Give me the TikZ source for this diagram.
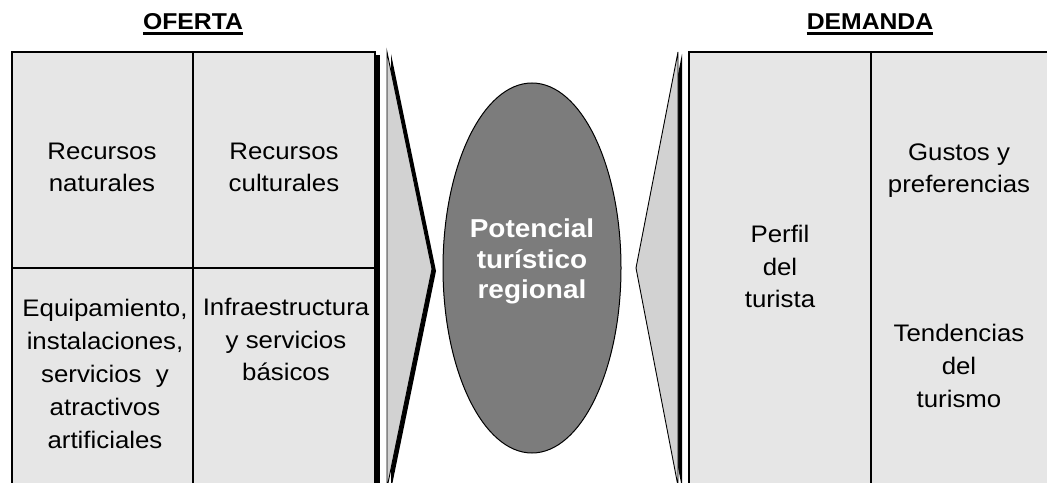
\documentclass[tikz,border=0pt]{standalone}
\usepackage{fontspec}
\setmainfont{Liberation Sans}[FakeStretch=1.08]
\usetikzlibrary{shapes.geometric}

\definecolor{cajagris}{HTML}{E6E6E6}
\definecolor{flechagris}{HTML}{D2D2D2}
\definecolor{centrogris}{HTML}{7C7C7C}

\begin{document}
\begin{tikzpicture}[x=1bp, y=-1bp,
	caja/.style={draw=black, line width=1.1bp, fill=cajagris},
	flecha/.style={draw=black, line width=0.9bp, fill=flechagris},
	sombra/.style={fill=black, draw=none},
	cell/.style={align=center, anchor=base, inner sep=0pt, font=\fontsize{24}{33}\selectfont},
	titulo/.style={anchor=base, inner sep=0pt, font=\fontsize{23}{28}\selectfont\bfseries}]

	\useasboundingbox (0, 0) rectangle (1047, 483);
	\clip (0, 0) rectangle (1047, 483);

	% titles
	\node[titulo] (oferta) at (193, 30) {OFERTA};
	\node[titulo] (demanda) at (870, 30) {DEMANDA};
	\draw[line width=2.4bp] ([yshift=-3.5bp]oferta.base west) -- ([yshift=-3.5bp]oferta.base east);
	\draw[line width=2.4bp] ([yshift=-3.5bp]demanda.base west) -- ([yshift=-3.5bp]demanda.base east);

	% oferta block
	\path[sombra] (17, 55) rectangle (380, 500);
	\draw[caja] (12, 52) rectangle (375, 500);
	\draw[line width=1.1bp] (193, 52) -- (193, 500);
	\draw[line width=1.1bp] (12, 268) -- (375, 268);

	% (base = last line)
	\node[cell] (recnat) at (102, 192) {Recursos\\naturales};
	\node[cell] (reccul) at (284, 192) {Recursos\\culturales};
	\node[cell] (equip) at (105, 448) {Equipamiento,\\instalaciones,\\servicios~~y\\atractivos\\artificiales};
	\node[cell] (infra) at (286, 381) {Infraestructura\\y servicios\\básicos};

	% left chevron
	\path[sombra] (391, 54) -- (436, 271) -- (391, 490) -- cycle;
	\draw[flecha] (387, 52) -- (432, 269) -- (387, 488) -- cycle;

	% centre
	\node[ellipse, draw=black, line width=1bp, fill=centrogris, minimum width=178bp, minimum height=370bp] (potencial) at (532, 268) {};
	\node[cell, text=white, font=\fontsize{26}{31}\selectfont\bfseries] (potxt) at (532, 299) {Potencial\\turístico\\regional};

	% right chevron
	\path[sombra] (682, 54) -- (640, 270) -- (682, 488) -- cycle;
	\draw[flecha] (678, 52) -- (636, 268) -- (678, 486) -- cycle;

	% demanda block
	\path[sombra] (694, 55) rectangle (1060, 500);
	\draw[caja] (689, 52) rectangle (1055, 500);
	\draw[line width=1.1bp] (871, 52) -- (871, 500);

	\node[cell] (perfil) at (780, 308) {Perfil\\del\\turista};
	\node[cell] (gustos) at (959, 193) {Gustos y\\preferencias};
	\node[cell] (tenden) at (959, 407) {Tendencias\\del\\turismo};
\end{tikzpicture}
\end{document}
